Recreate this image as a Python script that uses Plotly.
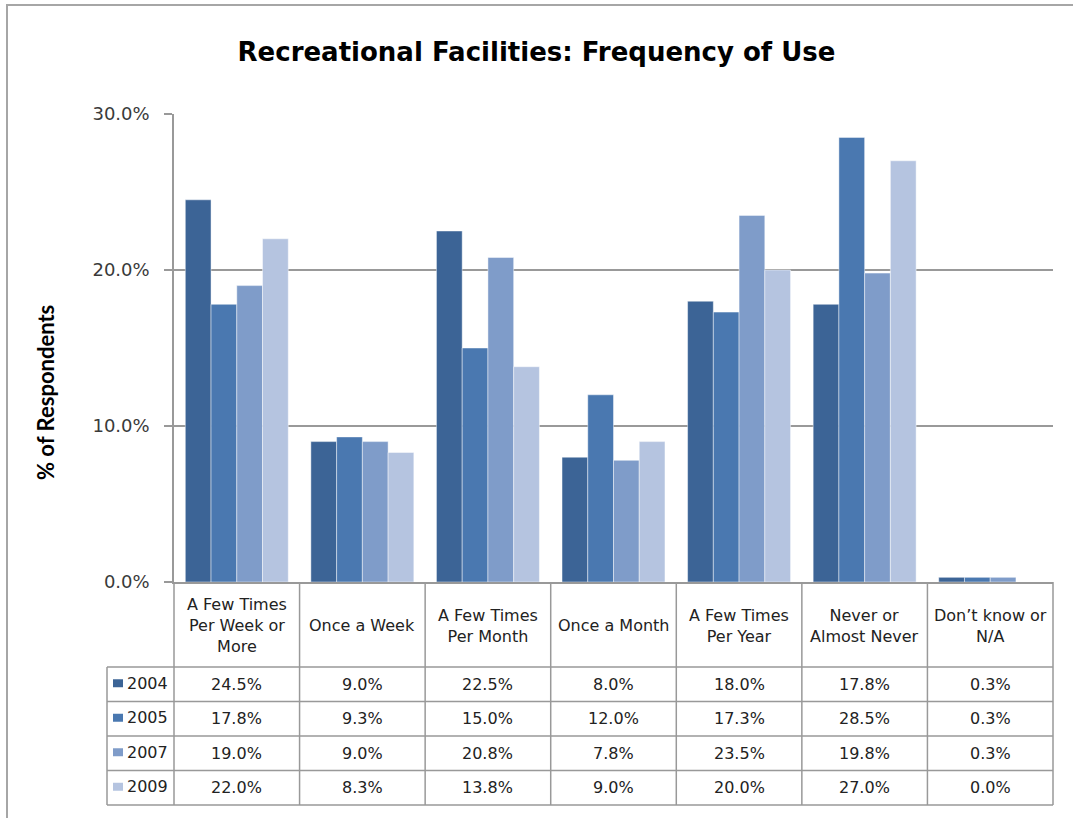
import plotly.graph_objects as go

# ---------------- data ----------------
categories = ["A Few Times Per Week or More", "Once a Week", "A Few Times Per Month",
              "Once a Month", "A Few Times Per Year", "Never or Almost Never",
              "Don’t know or N/A"]
header_labels = ["A Few Times<br>Per Week or<br>More", "Once a Week", "A Few Times<br>Per Month",
                 "Once a Month", "A Few Times<br>Per Year", "Never or<br>Almost Never",
                 "Don’t know or<br>N/A"]
years = ["2004", "2005", "2007", "2009"]
v2004 = [24.5, 9.0, 22.5, 8.0, 18.0, 17.8, 0.3]
v2005 = [17.8, 9.3, 15.0, 12.0, 17.3, 28.5, 0.3]
v2007 = [19.0, 9.0, 20.8, 7.8, 23.5, 19.8, 0.3]
v2009 = [22.0, 8.3, 13.8, 9.0, 20.0, 27.0, 0.0]
series = [v2004, v2005, v2007, v2009]
y_ticks = [0, 10, 20, 30]
colors = ["#3C6496", "#4A78B0", "#7F9CC9", "#B5C4E0"]

# ---------------- geometry ----------------
W, H = 1073, 818
L, R, T, B = 174, 20, 114, 236
PW, PH = W - L - R, H - T - B
WIDE = "DejaVu Sans, Verdana, sans-serif"
NARROW = "Lato, Carlito, Calibri, sans-serif"
GRID = "#999999"
TXT = "#222222"


def px(x):
    return (x - L) / PW


def py(y):
    return (H - B - y) / PH


fig = go.Figure()
for yr, vals, c in zip(years, series, colors):
    fig.add_trace(go.Bar(x=categories, y=vals, name=yr,
                         marker=dict(color=c, line=dict(color="rgba(255,255,255,0.45)", width=1))))

shapes = []
annotations = []
n = len(categories)

# table geometry
head_top, head_bot, table_bot = 582, 667, 805
row_h = (table_bot - head_bot) / len(years)
leg_left = 107

line = dict(color=GRID, width=1.5)
for j in range(n + 1):
    shapes.append(dict(type="line", xref="paper", yref="paper", x0=j / n, x1=j / n,
                       y0=py(head_top), y1=py(table_bot), line=line))
shapes.append(dict(type="line", xref="paper", yref="paper", x0=px(leg_left), x1=px(leg_left),
                   y0=py(head_bot), y1=py(table_bot), line=line))
for k in range(len(years) + 1):
    yy = head_bot + k * row_h
    shapes.append(dict(type="line", xref="paper", yref="paper", x0=px(leg_left), x1=1,
                       y0=py(yy), y1=py(yy), line=line))

for i, lab in enumerate(header_labels):
    annotations.append(dict(x=i, xref="x", y=py((head_top + head_bot) / 2 + 1), yref="paper",
                            text=lab, showarrow=False, xanchor="center", yanchor="middle",
                            font=dict(family=WIDE, size=16, color=TXT)))
for k, (yr, vals, c) in enumerate(zip(years, series, colors)):
    yc = head_bot + (k + 0.5) * row_h
    shapes.append(dict(type="rect", xref="paper", yref="paper", x0=px(113), x1=px(123),
                       y0=py(yc + 3), y1=py(yc - 5), fillcolor=c, line=dict(width=0)))
    annotations.append(dict(x=px(125), xref="paper", y=py(yc - 1), yref="paper", text=yr,
                            showarrow=False, xanchor="left", yanchor="middle",
                            font=dict(family=WIDE, size=16, color=TXT)))
    for i, v in enumerate(vals):
        annotations.append(dict(x=i, xref="x", y=py(yc), yref="paper", text=f"{v:.1f}%",
                                showarrow=False, xanchor="center", yanchor="middle",
                                font=dict(family=WIDE, size=16, color=TXT)))

# outer chart border (top & left)
shapes.append(dict(type="line", xref="paper", yref="paper", x0=px(6), x1=px(1080),
                   y0=py(5), y1=py(5), line=dict(color="#a6a6a6", width=2)))
shapes.append(dict(type="line", xref="paper", yref="paper", x0=px(7), x1=px(7),
                   y0=py(4), y1=py(830), line=dict(color="#a6a6a6", width=2)))

annotations.append(dict(x=px(45), xref="paper", y=py(393), yref="paper",
                        text="<b>% of Respondents</b>", textangle=-90, showarrow=False,
                        xanchor="center", yanchor="middle",
                        font=dict(family=NARROW, size=22, color="#000000")))

fig.update_layout(
    width=W, height=H,
    margin=dict(l=L, r=R, t=T, b=B),
    paper_bgcolor="white", plot_bgcolor="white",
    barmode="group", bargap=0.18, bargroupgap=0,
    showlegend=False,
    title=dict(text="<b>Recreational Facilities: Frequency of Use</b>",
               x=px(613.5), xanchor="center", y=1 - 52 / H, yanchor="middle",
               font=dict(family=WIDE, size=26, color="#000000")),
    shapes=shapes, annotations=annotations,
    font=dict(family=WIDE),
)
fig.update_xaxes(showticklabels=False, ticks="", showline=True, linecolor=GRID, linewidth=1.5,
                 showgrid=False, range=[-0.5, n - 0.5])
fig.update_yaxes(range=[0, 30], tickvals=y_ticks, ticktext=[f"{t:.1f}%" for t in y_ticks],
                 showline=True, linecolor=GRID, linewidth=1.5, ticks="outside", ticklen=8,
                 tickcolor=GRID, tickwidth=1.5, showgrid=True, gridcolor=GRID, gridwidth=1.5,
                 ticklabelstandoff=11, zeroline=False,
                 tickfont=dict(family=WIDE, size=18, color="#3a3a3a"))

fig.write_html("out.html", config={"displayModeBar": False},
               post_script="document.body.style.margin='0';")
